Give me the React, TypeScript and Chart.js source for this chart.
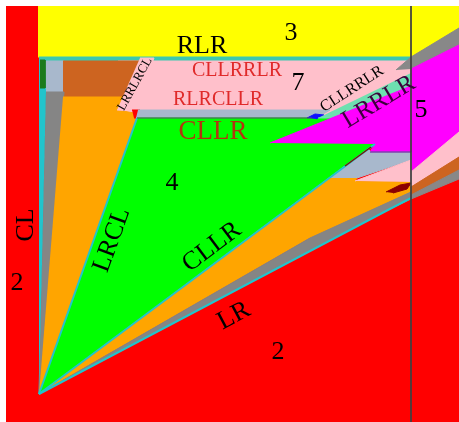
import React, { useEffect, useRef } from "react";
import { Chart, registerables } from "chart.js";

Chart.register(...registerables);

type Pt = [number, number];

// Parameter plane extents (horizontal a, vertical b; b grows downward)
const A_MIN = 6;
const A_MAX = 459;
const B_MIN = 6;
const B_MAX = 422;

// Region boundaries, listed as polygon vertices [a, b]
const regionPlane: Pt[] = [[6, 6], [459, 6], [459, 422], [6, 422]];
const region3: Pt[] = [[38, 6], [459, 6], [459, 29], [411, 57], [38, 57]];
const tealEdge: Pt[] = [[39, 57], [411, 57], [411, 61], [39, 61]];
const region7: Pt[] = [[118, 61], [411, 61], [411, 118], [118, 118]];
const brownCorner: Pt[] = [[63, 61], [139, 61], [123, 97], [63, 97]];
const steelCorner: Pt[] = [[45, 61], [64, 61], [63, 92], [46, 92]];
const cyanLeft: Pt[] = [[39, 60], [46, 60], [46, 92], [39, 394]];
const darkGreenCorner: Pt[] = [[40, 60], [45, 60], [45, 88], [40, 88]];
const grayLeft: Pt[] = [[46, 92], [64, 92], [39, 394]];
const orangeLeft: Pt[] = [[63, 97], [123, 97], [118, 110], [134, 113], [137, 118], [39, 394]];
const stripLRRLRCL: Pt[] = [[140, 58], [154, 58], [134, 111], [117, 110]];
const redNotch: Pt[] = [[132, 110], [140, 110], [138, 118], [134, 118]];
const steelBand: Pt[] = [[138, 110], [330, 110], [316, 118], [136, 118]];
const region4: Pt[] = [[137, 118], [330, 118], [375, 144], [39, 394]];
const aquaBand: Pt[] = [[318, 118], [332, 118], [411, 86], [411, 73]];
const grayWedge: Pt[] = [[396, 70], [411, 57], [459, 28], [459, 45], [411, 69]];
const region5: Pt[] = [
  [270, 143], [411, 86], [411, 69], [459, 45], [459, 132],
  [411, 172], [411, 152], [370, 152], [375, 144],
];
const steelLower: Pt[] = [[329, 178], [368, 149], [371, 152], [411, 152], [411, 160], [357, 178]];
const pinkLower: Pt[] = [[355, 181], [411, 160], [411, 172], [459, 132], [459, 157], [411, 187], [411, 182]];
const brownRight: Pt[] = [[411, 187], [459, 157], [459, 170], [411, 195]];
const grayRight: Pt[] = [[411, 195], [459, 170], [459, 179], [411, 199]];
const orangeLower: Pt[] = [[39, 394], [329, 178], [357, 178], [355, 181], [411, 182], [411, 192], [310, 238]];
const grayLower: Pt[] = [[39, 394], [310, 238], [411, 192], [411, 199], [386, 211]];
const darkRedPatch: Pt[] = [[386, 192], [400, 185], [411, 183], [407, 189], [393, 193]];
const blueDot: Pt[] = [[307, 118], [315, 114], [324, 115], [316, 119]];

// Boundary curves
const edgeGreenLower: Pt[] = [[39, 394], [375, 144]];
const edgeGreenLeft: Pt[] = [[39, 394], [137, 118]];
const edgeRed: Pt[] = [[39, 394], [386, 211], [411, 198]];
const edgeBrownTip: Pt[] = [[345, 166], [371, 147]];
const edgeGreenTop: Pt[] = [[137, 118], [312, 118]];
const edgeMagentaLow: Pt[] = [[370, 152], [411, 152]];
const dividerLine: Pt[] = [[411, 6], [411, 422]];

// Region labels: text, anchor [a, b], rotation (deg)
const labelTexts = [
  "RLR", "3", "CLLRRLR", "7", "RLRCLLR", "CLLR", "4", "LRRLRCL", "CLLRRLR",
  "LRRLR", "5", "CL", "2", "LRCL", "CLLR", "LR", "2",
];
const labelAnchors: Pt[] = [
  [202, 46], [291, 33], [237, 71], [298, 83], [218, 100], [213, 132], [172, 183],
  [135, 84], [352, 89], [379, 102], [421, 110], [26, 225], [17, 283], [112, 240],
  [212, 247], [234, 316], [278, 352],
];
const labelAngles = [0, 0, 0, 0, 0, 0, 0, -61, -33, -31, 0, -90, 0, -70, -37, -28, 0];
const labelKinds = [
  "big", "big", "redMid", "big", "redMid", "brown", "big", "small", "smallMid",
  "purple", "big", "big", "big", "big", "big", "big", "big",
];

const FONT = '"Liberation Serif", "Times New Roman", serif';
const labelStyle: Record<string, { size: number; color: string }> = {
  big: { size: 26, color: "#000000" },
  redMid: { size: 20, color: "#e02a2a" },
  brown: { size: 27, color: "#b3360e" },
  small: { size: 13, color: "#000000" },
  smallMid: { size: 16, color: "#000000" },
  purple: { size: 25, color: "#3c003c" },
};

const layers: { pts: Pt[]; color: string }[] = [
  { pts: regionPlane, color: "#ff0000" },
  { pts: region3, color: "#ffff00" },
  { pts: tealEdge, color: "#3cc8b0" },
  { pts: region7, color: "#ffc0cb" },
  { pts: cyanLeft, color: "#22c4cc" },
  { pts: steelCorner, color: "#a8b8cc" },
  { pts: brownCorner, color: "#cd6420" },
  { pts: darkGreenCorner, color: "#1c7a1c" },
  { pts: grayLeft, color: "#858585" },
  { pts: orangeLeft, color: "#ffa500" },
  { pts: stripLRRLRCL, color: "#ffc0cb" },
  { pts: redNotch, color: "#ff0000" },
  { pts: steelBand, color: "#a8b8cc" },
  { pts: region4, color: "#00ff00" },
  { pts: blueDot, color: "#1010ff" },
  { pts: aquaBand, color: "#6ee0b0" },
  { pts: grayWedge, color: "#888888" },
  { pts: region5, color: "#ff00ff" },
  { pts: orangeLower, color: "#ffa500" },
  { pts: grayLower, color: "#858585" },
  { pts: steelLower, color: "#a8b8cc" },
  { pts: pinkLower, color: "#ffc0cb" },
  { pts: brownRight, color: "#cd6420" },
  { pts: grayRight, color: "#888888" },
  { pts: darkRedPatch, color: "#8b0000" },
];

const curves: { pts: Pt[]; color: string; width: number }[] = [
  { pts: edgeGreenLower, color: "#22c4cc", width: 2 },
  { pts: edgeGreenLeft, color: "#22c4cc", width: 2 },
  { pts: edgeRed, color: "#22c4cc", width: 2 },
  { pts: edgeBrownTip, color: "#7a1a00", width: 1.5 },
  { pts: edgeGreenTop, color: "#5a4a70", width: 1 },
  { pts: edgeMagentaLow, color: "#6a00a0", width: 1 },
  { pts: dividerLine, color: "#404040", width: 1 },
];

const toXY = (pts: Pt[]) => pts.map(([x, y]) => ({ x, y }));

const labelPlugin = {
  id: "regionLabels",
  afterDatasetsDraw(chart: Chart) {
    const { ctx } = chart;
    const xs = chart.scales.x;
    const ys = chart.scales.y;
    labelTexts.forEach((text, i) => {
      const [a, b] = labelAnchors[i];
      const st = labelStyle[labelKinds[i]];
      ctx.save();
      ctx.translate(xs.getPixelForValue(a), ys.getPixelForValue(b));
      ctx.rotate((labelAngles[i] * Math.PI) / 180);
      ctx.font = `${st.size}px ${FONT}`;
      ctx.fillStyle = st.color;
      ctx.textAlign = "center";
      ctx.textBaseline = "middle";
      ctx.fillText(text, 0, 0);
      ctx.restore();
    });
  },
};

export default function App() {
  const ref = useRef<HTMLCanvasElement | null>(null);

  useEffect(() => {
    if (!ref.current) return;
    const polys = layers.map((l) => ({
      data: toXY(l.pts),
      showLine: true,
      fill: "shape",
      backgroundColor: l.color,
      borderColor: l.color,
      borderWidth: 1,
      pointRadius: 0,
      tension: 0,
    }));
    const lines = curves.map((c) => ({
      data: toXY(c.pts),
      showLine: true,
      fill: false,
      borderColor: c.color,
      borderWidth: c.width,
      pointRadius: 0,
      tension: 0,
    }));
    // first dataset is painted last, so put the top-most layers first
    const datasets = [...polys, ...lines].reverse();

    const chart = new Chart(ref.current, {
      type: "scatter",
      data: { datasets: datasets as any },
      options: {
        animation: false,
        responsive: false,
        maintainAspectRatio: false,
        events: [],
        layout: { padding: { left: 6, top: 6, right: 0, bottom: 0 } },
        scales: {
          x: { type: "linear", min: A_MIN, max: A_MAX, display: false },
          y: { type: "linear", min: B_MIN, max: B_MAX, reverse: true, display: false },
        },
        plugins: { legend: { display: false }, tooltip: { enabled: false } },
      },
      plugins: [labelPlugin],
    });
    return () => chart.destroy();
  }, []);

  return (
    <div style={{ position: "fixed", left: 0, top: 0, width: 459, height: 422, background: "#fff" }}>
      <canvas ref={ref} width={459} height={422} />
    </div>
  );
}
